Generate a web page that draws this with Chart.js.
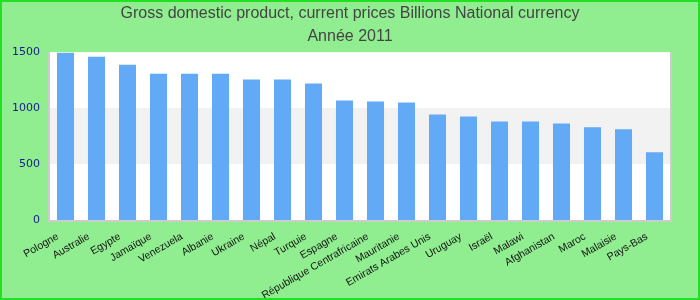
<!DOCTYPE html>
<html>
<head>
<meta charset="utf-8">
<script src="https://cdn.jsdelivr.net/npm/chart.js@4/dist/chart.umd.min.js"></script>
<style>
html,body{margin:0;padding:0;background:#90ee90;}
#wrap{width:700px;height:300px;box-sizing:border-box;border:2px solid #22e022;background:#90ee90;position:relative;}
canvas{display:block;}
</style>
</head>
<body>
<div id="wrap"><canvas id="c" width="696" height="296"></canvas></div>
<script>
const titleLines = ["Gross domestic product, current prices Billions National currency", "Année 2011"];
const categories = ["Pologne","Australie","Egypte","Jamaïque","Venezuela","Albanie","Ukraine","Népal","Turquie","Espagne","République Centrafricaine","Mauritanie","Emirats Arabes Unis","Uruguay","Israël","Malawi","Afghanistan","Maroc","Malaisie","Pays-Bas"];
const values = [1495,1459,1388,1308,1308,1308,1255,1255,1219,1068,1059,1050,943,926,881,881,863,828,810,605];
const yTicks = [0,500,1000,1500];

const bgPlugin = {
  id:'bg',
  beforeDraw(chart){
    const {ctx, chartArea:a, scales:{y}} = chart;
    ctx.save();
    ctx.fillStyle='#ffffff';
    ctx.fillRect(a.left,a.top,a.right-a.left,a.bottom-a.top);
    ctx.fillStyle='#f2f2f2';
    const y1=y.getPixelForValue(yTicks[2]), y0=y.getPixelForValue(yTicks[1]);
    ctx.fillRect(a.left,y1,a.right-a.left,y0-y1);
    ctx.restore();
  },
  afterDatasetsDraw(chart){
    const {ctx, chartArea:a} = chart;
    ctx.save();
    ctx.strokeStyle='#cccccc';
    ctx.lineWidth=2;
    ctx.beginPath();
    ctx.moveTo(a.left-1,a.top);
    ctx.lineTo(a.left-1,a.bottom+1);
    ctx.lineTo(a.right+1,a.bottom+1);
    ctx.lineTo(a.right+1,a.top);
    ctx.stroke();
    ctx.restore();
  }
};

new Chart(document.getElementById('c'),{
  type:'bar',
  data:{labels:categories,datasets:[{data:values,backgroundColor:'#62aaf5',borderWidth:0,barPercentage:0.55,categoryPercentage:1}]},
  options:{
    responsive:false,animation:false,
    layout:{padding:0},
    plugins:{
      legend:{display:false},tooltip:{enabled:false},
      title:{display:true,text:titleLines,color:'#444444',font:{family:'Liberation Sans, Arial, sans-serif',size:16,weight:'normal',lineHeight:1.38},padding:{top:1,bottom:5}}
    },
    scales:{
      x:{
        grid:{display:false,drawTicks:false},
        border:{display:false},
        ticks:{color:'#111111',font:{family:'Liberation Sans, Arial, sans-serif',size:10.5},minRotation:30,maxRotation:30,autoSkip:false,padding:6,
          callback:(v,i)=>categories[i]+'   '},
        afterFit(s){s.height=78;}
      },
      y:{
        min:0,max:1500,
        grid:{display:false,drawTicks:false},
        border:{display:false},
        ticks:{stepSize:500,color:'#1a1a8c',font:{family:'DejaVu Sans, sans-serif',size:11},padding:10,callback:v=>String(v)},
        afterBuildTicks(s){s.ticks=yTicks.map(v=>({value:v}));},
        afterFit(s){s.width=48;}
      },
      yr:{
        position:'right',display:true,
        grid:{display:false,drawTicks:false},
        border:{display:false},
        ticks:{display:false},
        afterFit(s){s.width=28;}
      }
    }
  },
  plugins:[bgPlugin]
});
</script>
</body>
</html>
